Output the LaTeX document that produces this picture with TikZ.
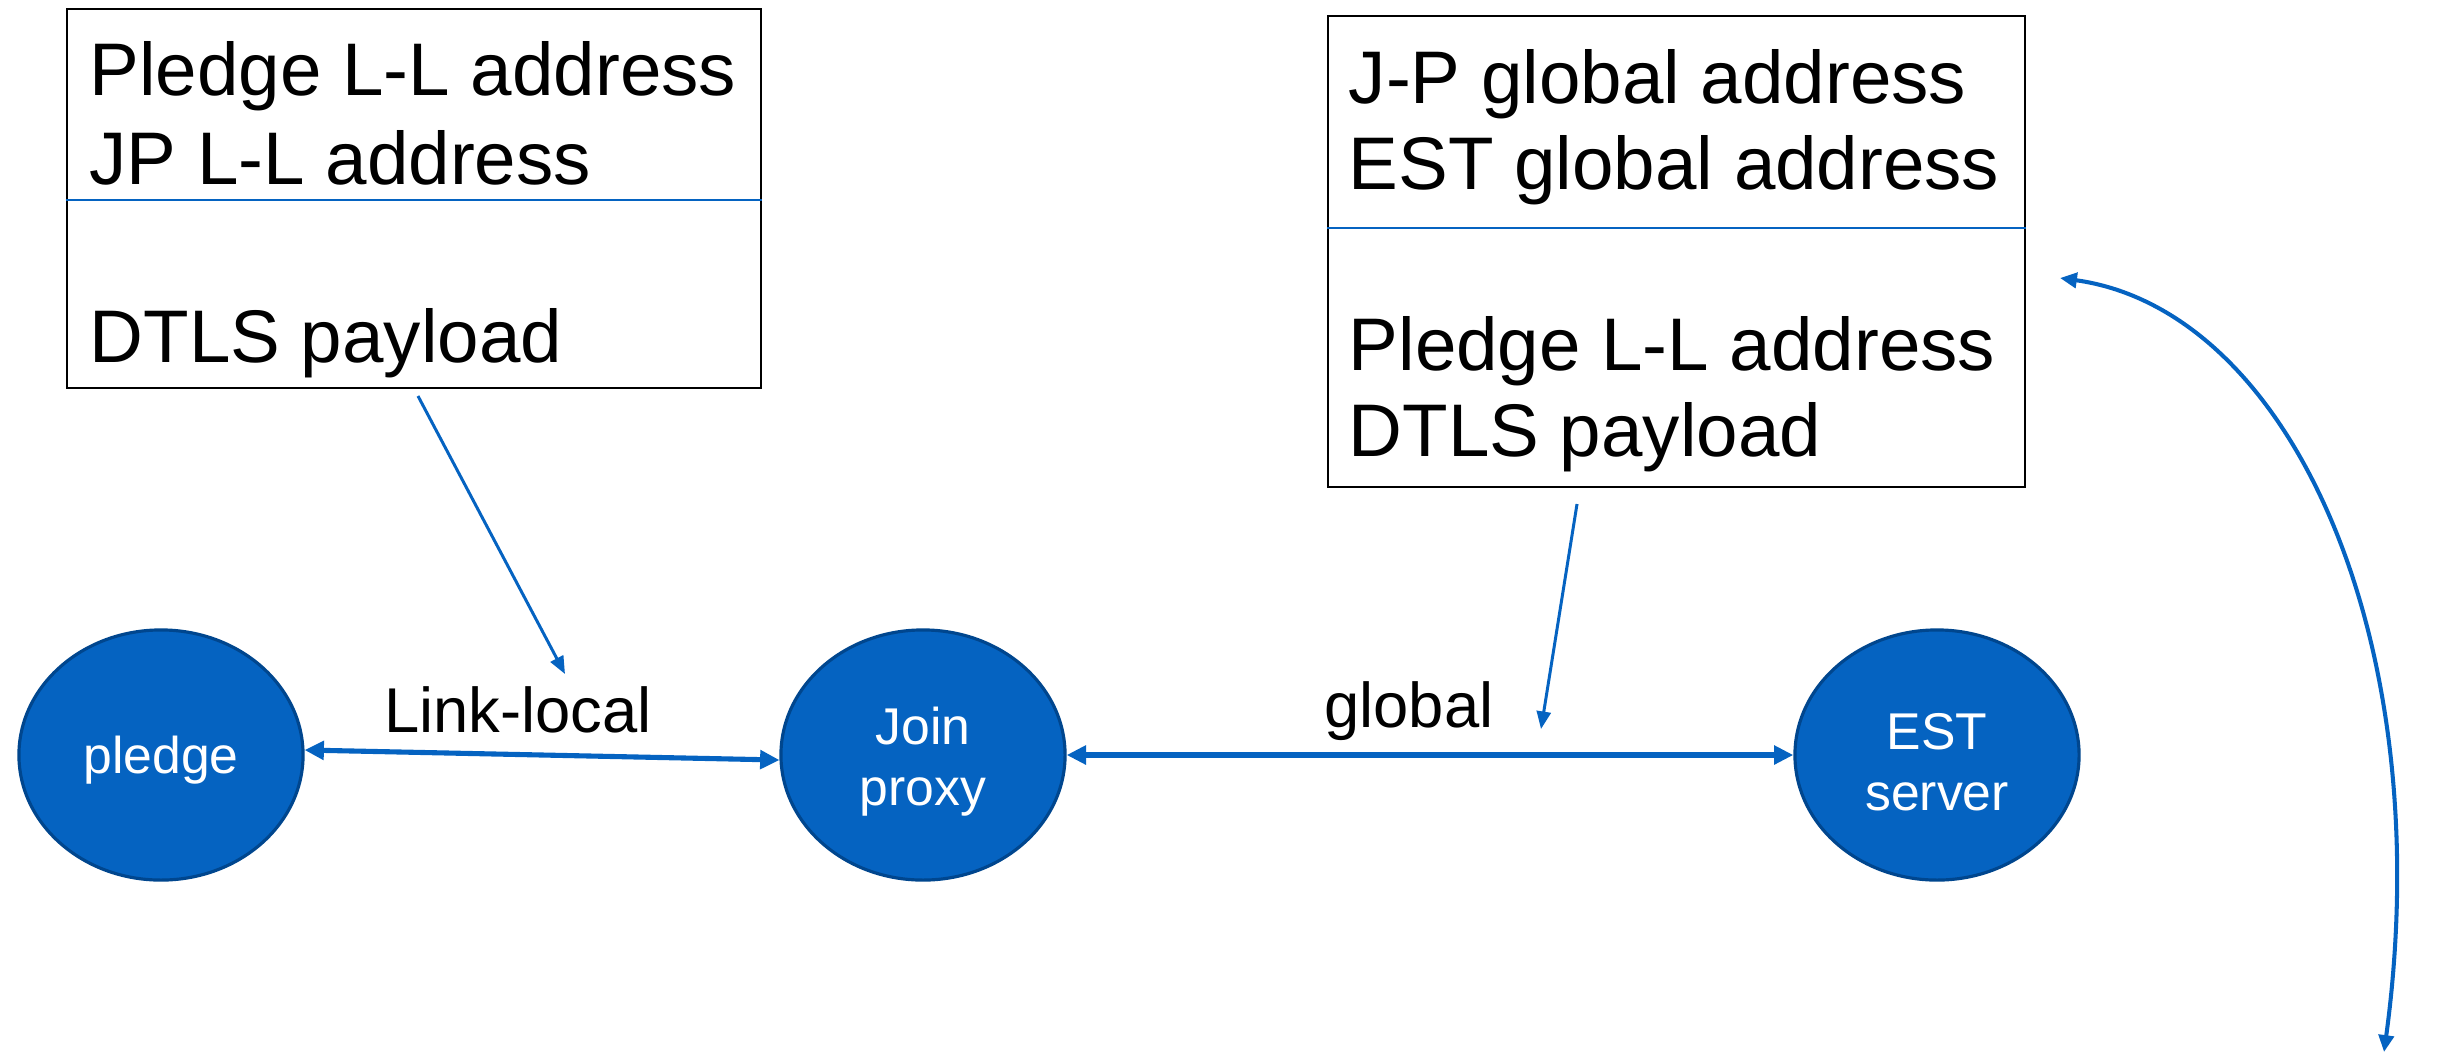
\documentclass[tikz,border=0pt]{standalone}
\usepackage{fontspec}
\setmainfont{Liberation Sans}
\usetikzlibrary{arrows.meta,shapes.geometric}
\definecolor{nodeblue}{RGB}{5,99,193}
\definecolor{nodeedge}{RGB}{0,70,142}
\definecolor{linkblue}{RGB}{5,99,193}
\begin{document}
\begin{tikzpicture}[x=0.01cm,y=-0.01cm,
  ent/.style={ellipse, fill=nodeblue, draw=nodeedge, line width=0.9pt,
    minimum width=2.84cm, minimum height=2.5cm, inner sep=0pt},
  enttext/.style={inner sep=0pt, text=white,
    font=\fontsize{14.7}{17.4}\selectfont, align=center},
  hdrbox/.style={draw=black, line width=0.6pt, inner sep=0pt},
  boxtext/.style={anchor=base west, inner sep=0pt, font=\fontsize{21.2}{25}\selectfont},
  lbl/.style={font=\fontsize{18}{21}\selectfont, inner sep=0pt},
  divider/.style={draw=linkblue, line width=0.7pt},
  link/.style={draw=linkblue, line width=1.45pt,
    {Triangle[length=5.5pt,width=5.2pt]}-{Triangle[length=5.5pt,width=5.2pt]}},
  pointer/.style={draw=linkblue, line width=0.85pt, -{Triangle[length=5pt,width=4pt]}},
  swing/.style={draw=linkblue, line width=1.15pt,
    {Triangle[length=4.8pt,width=4.3pt]}-{Triangle[length=4.8pt,width=4.3pt]}}]
\useasboundingbox (0,0) rectangle (2446,1054);

% header boxes
\node[hdrbox, minimum width=6.94cm, minimum height=3.79cm] (box1) at (414,198.5) {};
\draw[divider] (box1.west |- 0,200) -- (box1.east |- 0,200);
\node[boxtext] (b1a) at (89,95) {Pledge L-L address};
\node[boxtext] (b1b) at (89,184) {JP L-L address};
\node[boxtext] (b1c) at (89,362) {DTLS payload};

\node[hdrbox, minimum width=6.97cm, minimum height=4.71cm] (box2) at (1676.5,251.5) {};
\draw[divider] (box2.west |- 0,228) -- (box2.east |- 0,228);
\node[boxtext] (b2a) at (1348,103) {J-P global address};
\node[boxtext] (b2b) at (1348,189) {EST global address};
\node[boxtext] (b2c) at (1348,370) {Pledge L-L address};
\node[boxtext] (b2d) at (1348,456) {DTLS payload};

% entities
\node[ent] (pledge) at (161,755) {};
\node[ent] (jp) at (923,755) {};
\node[ent] (est) at (1937,755) {};
\node[enttext] (pledgeT) at (161,760) {pledge};
\node[enttext] (jpT) at (923,762) {Join\\proxy};
\node[enttext] (estT) at (1937,762) {EST\\server};

% links
\draw[link] (pledge.2) -- (jp.182);
\draw[link] (jp.east) -- (est.west);
\node[lbl] (ll) at (518,710) {Link-local};
\node[lbl] (gl) at (1409,711) {global};

% pointers
\coordinate (p1s) at (418,396);
\coordinate (p1e) at (565,674);
\draw[pointer] (p1s) -- (p1e);
\coordinate (p2s) at (1577,504);
\coordinate (p2e) at (1541,729);
\draw[pointer] (p2s) -- (p2e);

% swing arrow
\coordinate (cs) at (2060,278);
\coordinate (ce) at (2384,1052);
\draw[swing] (cs) .. controls (2290,310) and (2440,640) .. (ce);
\end{tikzpicture}
\end{document}
